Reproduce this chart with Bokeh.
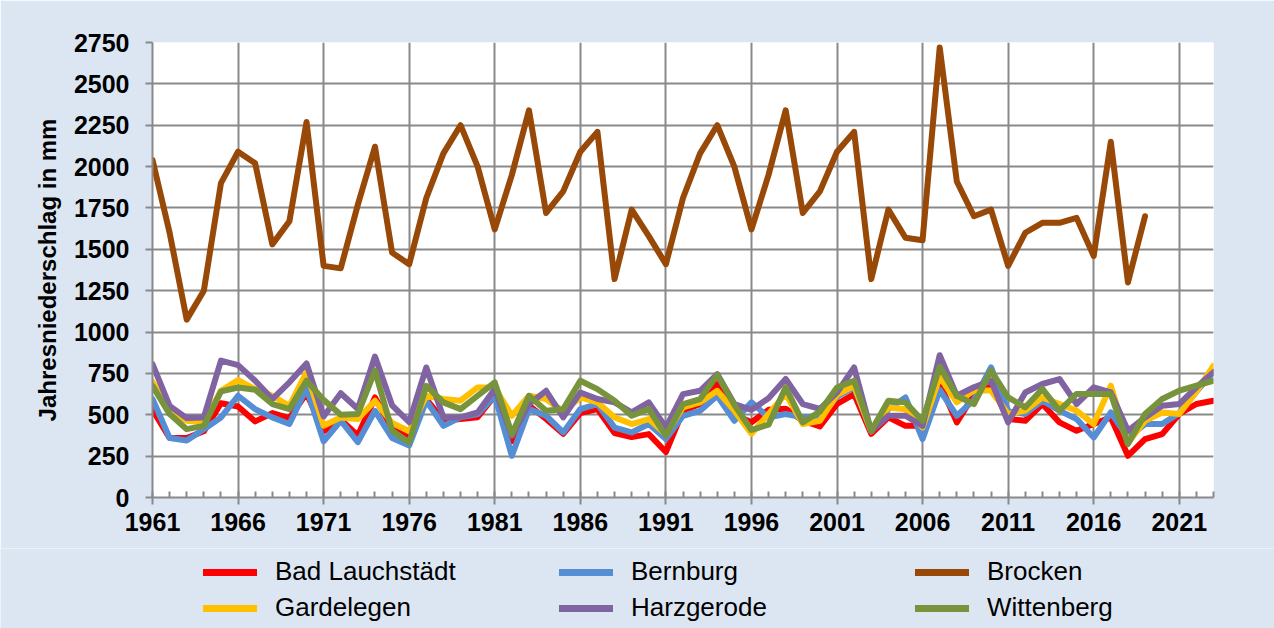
from bokeh.plotting import figure
from bokeh.layouts import column
from bokeh.models import Range1d, FixedTicker, Legend, LegendItem
from bokeh.embed import file_html
from bokeh.resources import INLINE

years = list(range(1961, 2024))
years_brocken = list(range(1961, 2020))
x_ticks = list(range(1961, 2022, 5))
y_ticks = list(range(0, 2751, 250))

bad_lauchstaedt = [530, 360, 360, 400, 570, 550, 460, 510, 480, 630,
                   400, 470, 375, 605, 420, 365, 595, 465, 475, 485,
                   615, 340, 555, 475, 385, 510, 535, 390, 365, 383,
                   275, 524, 565, 685, 500, 455, 530, 537, 464, 430,
                   565, 625, 385, 484, 433, 433, 690, 454, 620, 686,
                   474, 464, 565, 454, 403, 444, 484, 252, 353, 383,
                   505, 565, 585]
bernburg = [595, 360, 345, 413, 484, 615, 534, 484, 444, 660,
            340, 464, 335, 524, 360, 315, 585, 433, 484, 504,
            615, 252, 534, 494, 393, 534, 565, 423, 393, 444,
            353, 494, 524, 615, 464, 575, 484, 505, 484, 484,
            610, 665, 400, 534, 605, 353, 650, 494, 590, 787,
            525, 505, 585, 525, 474, 363, 514, 363, 444, 444,
            510, 640, 760]
brocken = [2040, 1600, 1075, 1250, 1900, 2090, 2020, 1530, 1670, 2270,
           1400, 1385, 1770, 2120, 1480, 1410, 1810, 2080, 2250, 2000,
           1620, 1950, 2340, 1720, 1850, 2090, 2210, 1320, 1740, 1580,
           1410, 1810, 2080, 2250, 2000, 1620, 1950, 2340, 1720, 1850,
           2090, 2210, 1320, 1740, 1570, 1555, 2720, 1910, 1700, 1740,
           1400, 1600, 1660, 1660, 1690, 1460, 2150, 1300, 1700]
gardelegen = [700, 524, 464, 454, 645, 710, 655, 615, 554, 756,
              434, 484, 474, 585, 450, 400, 615, 595, 585, 665,
              665, 494, 615, 595, 520, 605, 575, 484, 444, 474,
              383, 544, 575, 645, 525, 385, 505, 626, 444, 464,
              620, 675, 400, 544, 534, 423, 730, 575, 646, 646,
              505, 525, 605, 565, 525, 444, 676, 330, 464, 514,
              505, 640, 797]
harzgerode = [806, 554, 480, 484, 827, 800, 706, 595, 696, 810,
              490, 630, 535, 852, 557, 455, 786, 484, 484, 514,
              655, 373, 565, 645, 484, 635, 595, 575, 514, 575,
              423, 625, 645, 746, 565, 530, 600, 716, 565, 535,
              635, 786, 400, 494, 494, 433, 860, 615, 666, 706,
              454, 635, 686, 716, 565, 666, 635, 403, 484, 555,
              565, 666, 757]
wittenberg = [675, 504, 413, 433, 641, 665, 651, 565, 534, 706,
              590, 500, 505, 767, 403, 333, 675, 575, 534, 615,
              696, 383, 615, 524, 534, 706, 655, 585, 494, 534,
              373, 565, 595, 740, 560, 408, 440, 666, 454, 520,
              665, 706, 403, 585, 575, 464, 790, 615, 565, 767,
              605, 545, 656, 525, 626, 626, 626, 323, 505, 595,
              646, 676, 706]

series = [
    ("Bad Lauchstädt", years, bad_lauchstaedt, "#FF0000"),
    ("Bernburg", years, bernburg, "#558ED5"),
    ("Brocken", years_brocken, brocken, "#984807"),
    ("Gardelegen", years, gardelegen, "#FFC000"),
    ("Harzgerode", years, harzgerode, "#8064A2"),
    ("Wittenberg", years, wittenberg, "#77933C"),
]

FONT = "Liberation Sans"
GRID = "#898989"
BG = "#DCE6F2"

# ---------------- main chart ----------------
p = figure(width=1274, height=548, output_backend="svg", toolbar_location=None,
           x_range=Range1d(1961, 2023), y_range=Range1d(0, 2750),
           min_border_left=152, min_border_right=61, min_border_top=42,
           min_border_bottom=51,
           background_fill_color="white", border_fill_color=BG)
p.outline_line_color = None
p.frame_align = False

for name, xs, ys, col in series:
    p.line(xs, ys, line_color=col, line_width=6, line_join="round",
           line_cap="round")

p.xaxis.ticker = FixedTicker(ticks=x_ticks, minor_ticks=years)
p.yaxis.ticker = FixedTicker(ticks=y_ticks)
p.xgrid.ticker = FixedTicker(ticks=x_ticks)
p.ygrid.ticker = FixedTicker(ticks=y_ticks)
for ax in (p.xaxis, p.yaxis):
    ax.axis_line_color = GRID
    ax.axis_line_width = 2
    ax.major_tick_line_color = GRID
    ax.major_tick_line_width = 2
    ax.major_tick_out = 7
    ax.major_tick_in = 0
    ax.major_label_text_font = FONT
    ax.major_label_text_font_size = "25px"
    ax.major_label_text_font_style = "bold"
    ax.major_label_text_color = "black"
p.xaxis.minor_tick_line_color = GRID
p.xaxis.minor_tick_line_width = 2
p.xaxis.minor_tick_in = 6
p.xaxis.minor_tick_out = 0
p.yaxis.minor_tick_line_color = None
p.xaxis.major_label_standoff = 8
p.yaxis.major_label_standoff = 16
p.yaxis.axis_label = "Jahresniederschlag in mm"
p.yaxis.axis_label_text_font = FONT
p.yaxis.axis_label_text_font_size = "24px"
p.yaxis.axis_label_text_font_style = "bold"
p.yaxis.axis_label_text_color = "black"
p.yaxis.axis_label_standoff = 10

for g in (p.xgrid, p.ygrid):
    g.grid_line_color = GRID
    g.grid_line_width = 2

# ---------------- legend strip ----------------
q = figure(width=1274, height=80, output_backend="svg", toolbar_location=None,
           x_range=Range1d(0, 1), y_range=Range1d(0, 1),
           x_axis_location=None, y_axis_location=None,
           min_border_left=0, min_border_right=0, min_border_top=0,
           min_border_bottom=0,
           background_fill_color=BG, border_fill_color=BG)
q.outline_line_color = None
q.frame_align = False
q.xgrid.visible = False
q.ygrid.visible = False

items = []
for name, xs, ys, col in series:
    # same series, outside this strip's ranges: only the legend glyph shows
    r = q.line(xs, ys, line_color=col, line_width=7, line_cap="round")
    items.append(LegendItem(label=name, renderers=[r]))


def make_legend(its, loc):
    lg = Legend(items=its, location=loc, orientation="horizontal")
    lg.margin = 0
    lg.padding = 0
    lg.spacing = 0
    lg.glyph_width = 54
    lg.glyph_height = 30
    lg.label_height = 30
    lg.label_width = 284
    lg.label_standoff = 18
    lg.label_text_font = FONT
    lg.label_text_font_size = "26px"
    lg.label_text_color = "black"
    lg.border_line_color = None
    lg.background_fill_alpha = 0
    return lg


q.add_layout(make_legend(items[:3], (203, 41)))
q.add_layout(make_legend(items[3:], (203, 5)))

layout = column(p, q, spacing=0)
open("out.html", "w").write(file_html(layout, INLINE))
